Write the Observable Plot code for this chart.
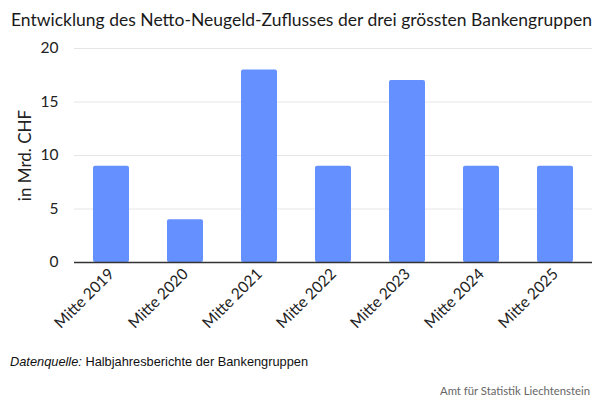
<!DOCTYPE html>
<html>
<head>
<meta charset="utf-8">
<script src="https://cdn.jsdelivr.net/npm/d3@7"></script>
<script src="https://cdn.jsdelivr.net/npm/@observablehq/plot@0.6"></script>
<style>
  html, body { margin: 0; padding: 0; background: #fff; }
  body { width: 600px; height: 400px; position: relative; overflow: hidden; }
  #title { position: absolute; left: 11px; top: 9px; font-family: Lato, sans-serif; font-size: 17.5px; color: #1a1a1a; white-space: nowrap; }
  #chart { position: absolute; left: 0; top: 36px; }
  #source { position: absolute; left: 10px; top: 354px; font-family: "Liberation Sans", Arial, sans-serif; font-size: 12.8px; color: #111; }
  #credit { position: absolute; right: 10px; top: 384px; font-family: Lato, sans-serif; font-size: 11.3px; color: #666; }
</style>
</head>
<body>
<div id="title">Entwicklung des Netto-Neugeld-Zuflusses der drei grössten Bankengruppen</div>
<div id="chart"></div>
<div id="source"><i>Datenquelle:</i> Halbjahresberichte der Bankengruppen</div>
<div id="credit">Amt für Statistik Liechtenstein</div>
<script>
const categories = ["Mitte 2019", "Mitte 2020", "Mitte 2021", "Mitte 2022", "Mitte 2023", "Mitte 2024", "Mitte 2025"];
const values = [9, 4, 18, 9, 17, 9, 9];
const yTicks = [0, 5, 10, 15, 20];

const data = categories.map((c, i) => ({category: c, value: values[i]}));

const chart = Plot.plot({
  width: 600,
  height: 310,
  marginTop: 12,
  marginLeft: 74,
  marginRight: 8,
  marginBottom: 84,
  style: {fontFamily: "Lato, sans-serif", fontSize: "15px", color: "#222", background: "#fff"},
  x: {domain: categories, paddingInner: 0.52, paddingOuter: 0.26, label: null},
  y: {domain: [0, 20], label: null},
  marks: [
    Plot.gridY(yTicks, {stroke: "#e6e6e6", strokeOpacity: 1}),
    Plot.axisY(yTicks, {tickSize: 0, tickPadding: 16, fontSize: 15.5, label: null}),
    Plot.text(["in Mrd. CHF"], {frameAnchor: "left", dx: -49, rotate: -90, textAnchor: "middle", fontSize: 17, fill: "#222"}),
    Plot.barY(data, {x: "category", y: "value", fill: "#6590ff", rx: 2}),
    Plot.ruleY([0], {stroke: "#333", strokeWidth: 1.5}),
    Plot.axisX({tickSize: 0, tickRotate: -45, tickPadding: 9, fontSize: 15.5, label: null})
  ]
});
document.getElementById("chart").appendChild(chart);
</script>
</body>
</html>
